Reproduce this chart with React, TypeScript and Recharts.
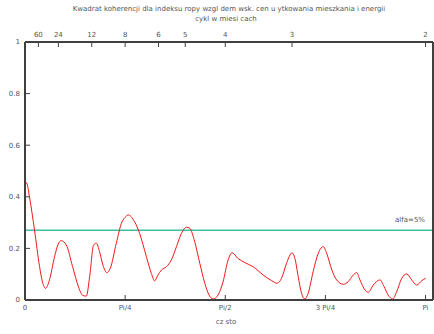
import React from 'react';
import { LineChart, Line, XAxis, YAxis, ReferenceLine } from 'recharts';

// frequency in radians (0..Pi) and squared coherence
const freq = [
  0.000, 0.016, 0.035, 0.075, 0.114, 0.137, 0.161, 0.192, 0.232, 0.259, 0.284, 0.324,
  0.373, 0.420, 0.452, 0.481, 0.507, 0.538, 0.559, 0.585, 0.611, 0.642, 0.669, 0.716,
  0.756, 0.795, 0.807, 0.860, 0.899, 0.952, 0.991, 1.017, 1.043, 1.070, 1.109, 1.148,
  1.188, 1.227, 1.266, 1.292, 1.331, 1.371, 1.410, 1.444, 1.475, 1.514, 1.553, 1.593,
  1.624, 1.671, 1.724, 1.789, 1.868, 1.934, 1.978, 2.012, 2.051, 2.095, 2.117, 2.143,
  2.169, 2.195, 2.221, 2.260, 2.300, 2.339, 2.368, 2.407, 2.444, 2.496, 2.535, 2.575,
  2.601, 2.627, 2.666, 2.692, 2.732, 2.784, 2.816, 2.849, 2.884, 2.915, 2.955, 2.994,
  3.033, 3.072, 3.112, 3.142,
];
const coherence = [
  0.460, 0.450, 0.400, 0.270, 0.130, 0.070, 0.045, 0.078, 0.168, 0.215, 0.230, 0.213,
  0.130, 0.050, 0.018, 0.015, 0.090, 0.213, 0.220, 0.187, 0.136, 0.106, 0.123, 0.220,
  0.297, 0.325, 0.330, 0.303, 0.258, 0.168, 0.103, 0.074, 0.097, 0.116, 0.129, 0.155,
  0.207, 0.258, 0.282, 0.278, 0.226, 0.142, 0.065, 0.019, 0.004, 0.019, 0.070, 0.155,
  0.183, 0.161, 0.145, 0.129, 0.097, 0.075, 0.065, 0.084, 0.142, 0.183, 0.161, 0.090,
  0.026, 0.004, 0.026, 0.110, 0.181, 0.207, 0.178, 0.116, 0.078, 0.061, 0.071, 0.097,
  0.106, 0.078, 0.039, 0.030, 0.058, 0.078, 0.052, 0.019, 0.004, 0.032, 0.084, 0.101,
  0.078, 0.058, 0.075, 0.084,
];

const alphaLevel = 0.27;

const bottomTicks = [0, Math.PI / 4, Math.PI / 2, (3 * Math.PI) / 4, Math.PI];
const bottomLabels = ['0', 'Pi/4', 'Pi/2', '3 Pi/4', 'Pi'];
const periods = [60, 24, 12, 8, 6, 5, 4, 3, 2];
const yTicks = [0, 0.2, 0.4, 0.6, 0.8, 1];

const data = freq.map((f, i) => ({ f, c: coherence[i] }));
const topTicks = periods.map((p) => (2 * Math.PI) / p);

const FONT = 'DejaVu Sans';
const TXT = '#555';
const AX = '#404040';
const tickStyle = { fontSize: 7, fill: TXT, fontFamily: FONT };

export default function App() {
  return (
    <div style={{ position: 'absolute', left: 0, top: 0, width: 434, height: 334, background: '#fff' }}>
      <div style={{ position: 'absolute', top: 5, left: 0, width: 458, textAlign: 'center', fontSize: 7, color: TXT, fontFamily: FONT }}>
        Kwadrat koherencji dla indeksu ropy wzgl dem wsk. cen u ytkowania mieszkania i energii
      </div>
      <div style={{ position: 'absolute', top: 15, left: 0, width: 452, textAlign: 'center', fontSize: 7, color: TXT, fontFamily: FONT }}>
        cykl w miesi cach
      </div>
      <div style={{ position: 'absolute', top: 318, left: 0, width: 452, textAlign: 'center', fontSize: 7, color: TXT, fontFamily: FONT }}>
        cz  sto
      </div>
      <LineChart width={434} height={334} data={data} margin={{ top: 22, right: 0, bottom: 14, left: 0 }}>
        <XAxis
          xAxisId="bottom"
          dataKey="f"
          type="number"
          domain={[0, 3.2]}
          ticks={bottomTicks}
          tickFormatter={(v: number, i: number) => bottomLabels[i]}
          height={20}
          tickSize={-5}
          tickMargin={10}
          tick={tickStyle}
          axisLine={{ stroke: AX, strokeWidth: 2 }}
          tickLine={{ stroke: AX }}
          interval={0}
        />
        <XAxis
          xAxisId="top"
          dataKey="f"
          orientation="top"
          type="number"
          domain={[0, 3.2]}
          ticks={topTicks}
          tickFormatter={(v: number, i: number) => String(periods[i])}
          height={20}
          tickSize={-5}
          tickMargin={10}
          tick={tickStyle}
          axisLine={{ stroke: AX, strokeWidth: 2 }}
          tickLine={{ stroke: AX }}
          interval={0}
        />
        <YAxis
          yAxisId="left"
          type="number"
          domain={[0, 1]}
          ticks={yTicks}
          width={25}
          tickSize={-5}
          tickMargin={10}
          tick={tickStyle}
          axisLine={{ stroke: AX, strokeWidth: 2 }}
          tickLine={{ stroke: AX }}
          interval={0}
        />
        <YAxis
          yAxisId="right"
          orientation="right"
          type="number"
          domain={[0, 1]}
          ticks={yTicks}
          width={1}
          tickSize={-5}
          tick={false}
          axisLine={{ stroke: AX, strokeWidth: 2 }}
          tickLine={{ stroke: AX }}
          interval={0}
        />
        <ReferenceLine
          xAxisId="bottom"
          yAxisId="left"
          y={alphaLevel}
          stroke="#3fbf9f"
          strokeWidth={1.5}
          label={{ value: 'alfa=5%', position: 'insideBottomRight', fontSize: 7, fill: TXT, fontFamily: FONT, offset: 8 }}
        />
        <Line
          xAxisId="bottom"
          yAxisId="left"
          dataKey="c"
          type="monotone"
          stroke="#f01818"
          strokeWidth={1}
          dot={false}
          isAnimationActive={false}
        />
      </LineChart>
    </div>
  );
}
